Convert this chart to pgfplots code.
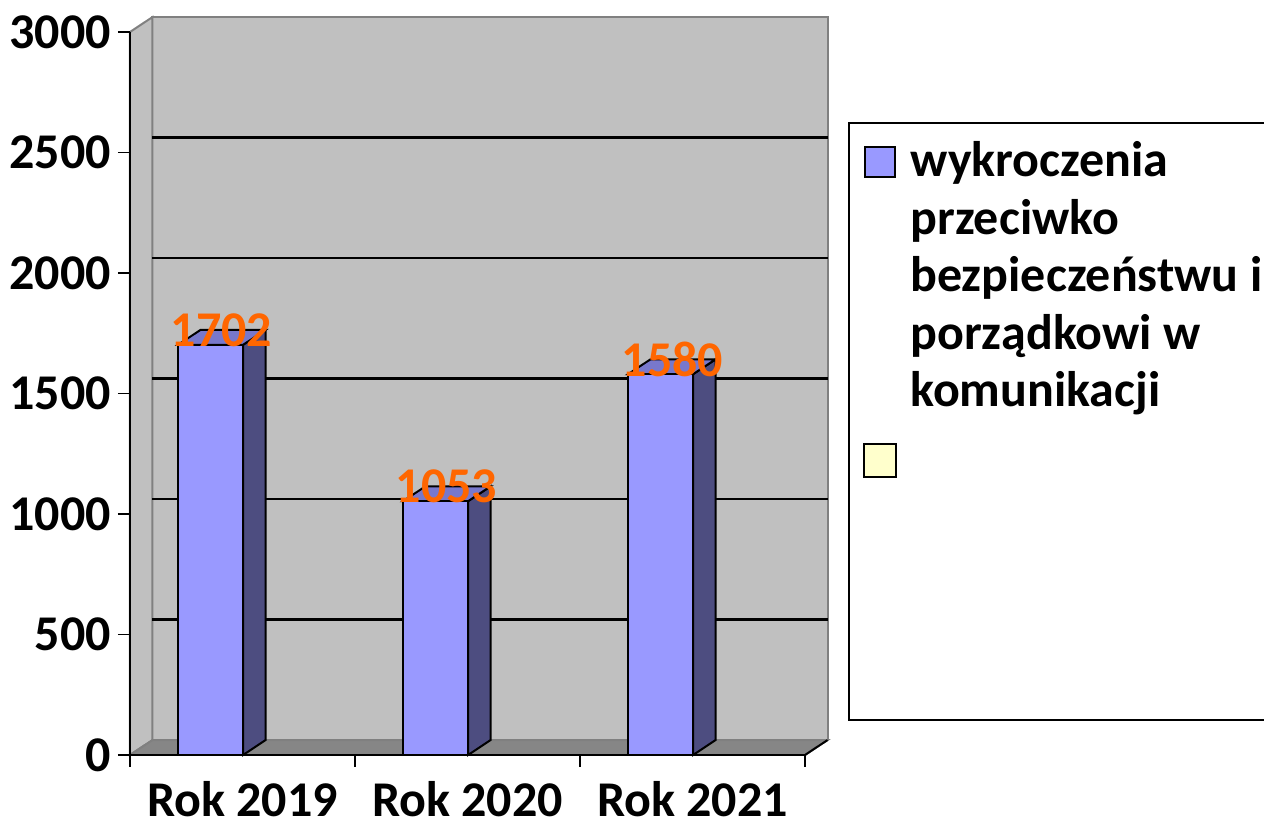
\documentclass[border=0pt]{standalone}
\usepackage{fontspec}
\setmainfont{Carlito}
\usepackage{pgfplots}
\pgfplotsset{compat=1.18}
\definecolor{wall}{HTML}{C0C0C0}
\definecolor{walledge}{HTML}{808080}
\definecolor{floorc}{HTML}{868686}
\definecolor{barfront}{HTML}{9999FF}
\definecolor{barside}{HTML}{4D4D80}
\definecolor{bartop}{HTML}{7878CC}
\definecolor{lab}{HTML}{FF6600}
\definecolor{leg2}{HTML}{FFFFCC}
\newcommand{\bigb}{\fontsize{25}{29}\selectfont\bfseries}
\begin{document}
\begin{tikzpicture}
\path[use as bounding box] (0,0) rectangle (632pt,414.5pt);
\begin{axis}[
  at={(65pt,37pt)}, anchor=south west,
  scale only axis, width=337.5pt, height=361.5pt,
  xmin=0, xmax=3, ymin=0, ymax=3000,
  clip=false, axis on top,
  axis x line*=bottom, axis y line*=left,
  axis line style={black, line width=1pt},
  tick align=outside,
  major tick length=6pt,
  ytick={0,500,...,3000},
  ytick style={black, line width=0.8pt},
  xtick={0,1,2,3}, xticklabels={},
  xtick style={black, line width=0.8pt},
  extra x ticks={0.5,1.5,2.5},
  extra x tick labels={Rok 2019,Rok 2020,Rok 2021},
  extra x tick style={xtick style={draw=none}, xticklabel style={inner sep=0pt, yshift=-7pt}},
  tick label style={font=\bigb},
  /pgf/number format/assume math mode=true,
  /pgf/number format/1000 sep={},
]
% walls
\addplot[fill=wall, draw=walledge, line width=1pt] coordinates {(0.1,62) (3.1,62) (3.1,3062) (0.1,3062)} --cycle;
\addplot[fill=wall, draw=walledge, line width=1pt] coordinates {(0,0) (0.1,62) (0.1,3062) (0,3000)} --cycle;
\addplot[fill=floorc, draw=walledge, line width=1pt] coordinates {(0,0) (3,0) (3.1,62) (0.1,62)} --cycle;
\addplot[black, line width=1pt] coordinates {(3,0) (3.1,62)};
% gridlines
\addplot[black, line width=1.1pt] coordinates {(0.1,562) (3.1,562)};
\addplot[black, line width=1.1pt] coordinates {(0.1,1062) (3.1,1062)};
\addplot[black, line width=1.1pt] coordinates {(0.1,1562) (3.1,1562)};
\addplot[black, line width=1.1pt] coordinates {(0.1,2062) (3.1,2062)};
\addplot[black, line width=1.1pt] coordinates {(0.1,2562) (3.1,2562)};
% bar sides and tops
\addplot[fill=barside, draw=black, line width=1pt] coordinates {(0.5025,0) (0.6025,62) (0.6025,1764) (0.5025,1702)} --cycle;
\addplot[fill=bartop, draw=black, line width=1pt] coordinates {(0.2135,1702) (0.3135,1764) (0.6025,1764) (0.5025,1702)} --cycle;
\addplot[fill=barside, draw=black, line width=1pt] coordinates {(1.5025,0) (1.6025,62) (1.6025,1115) (1.5025,1053)} --cycle;
\addplot[fill=bartop, draw=black, line width=1pt] coordinates {(1.2135,1053) (1.3135,1115) (1.6025,1115) (1.5025,1053)} --cycle;
\addplot[fill=barside, draw=black, line width=1pt] coordinates {(2.5025,0) (2.6025,62) (2.6025,1642) (2.5025,1580)} --cycle;
\addplot[fill=bartop, draw=black, line width=1pt] coordinates {(2.2135,1580) (2.3135,1642) (2.6025,1642) (2.5025,1580)} --cycle;
% bar fronts
\addplot[ybar, bar width=0.289, fill=barfront, draw=black, line width=1pt] coordinates {(0.358,1702) (1.358,1053) (2.358,1580)};
% value labels
\addplot[draw=none, nodes near coords, point meta=explicit symbolic,
  nodes near coords style={font=\bigb, text=lab, anchor=center}]
  coordinates {(0.407,1764)[1702] (1.407,1115)[1053] (2.411,1640)[1580]};
\end{axis}
% legend
\draw[line width=1pt] (424.5pt,54.5pt) rectangle (634pt,353pt);
\draw[line width=1pt, fill=barfront] (432.5pt,326pt) rectangle (447.5pt,341pt);
\draw[line width=1pt, fill=leg2] (432pt,176pt) rectangle (448pt,192.5pt);
\node[anchor=base west, inner sep=0pt, font=\bigb] at (455pt,326pt) {wykroczenia};
\node[anchor=base west, inner sep=0pt, font=\bigb] at (455pt,297.25pt) {przeciwko};
\node[anchor=base west, inner sep=0pt, font=\bigb] at (455pt,268.5pt) {bezpieczeństwu i};
\node[anchor=base west, inner sep=0pt, font=\bigb] at (455pt,239.75pt) {porządkowi w};
\node[anchor=base west, inner sep=0pt, font=\bigb] at (455pt,211pt) {komunikacji};
\end{tikzpicture}
\end{document}
